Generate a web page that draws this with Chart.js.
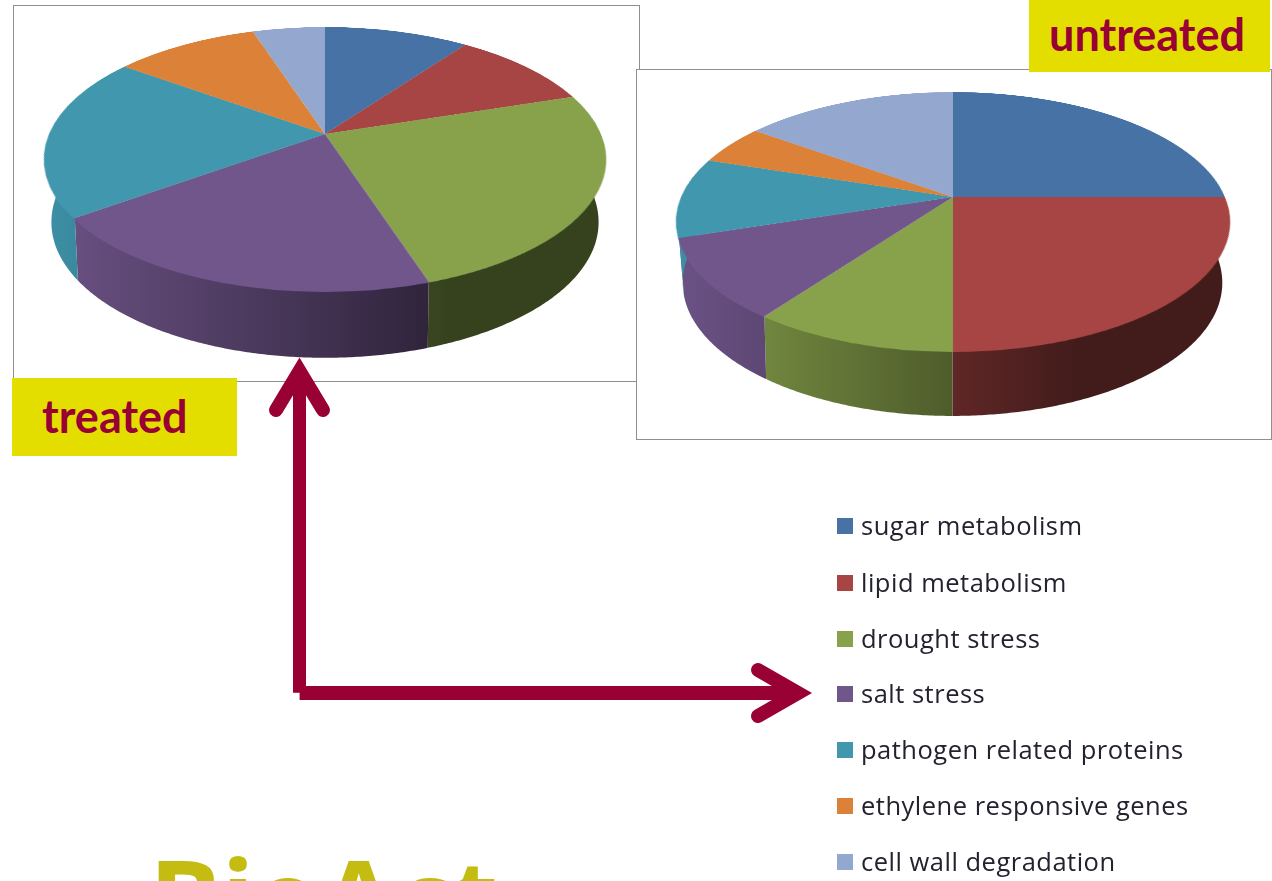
<!DOCTYPE html>
<html><head><meta charset="utf-8">
<style>
html,body{margin:0;padding:0;background:#fff;width:1272px;height:881px;overflow:hidden}
.abs{position:absolute}
.frame{border:1px solid #8f8f8f;box-sizing:border-box;background:#fff}
.tag{background:#e3de00;color:#990033;font:700 45px Lato,sans-serif;box-sizing:border-box;line-height:1}
.leg{font:25.5px "Open Sans",sans-serif;letter-spacing:.5px;color:#22232f;white-space:nowrap;line-height:1}
.sw{width:16px;height:16px}
canvas{display:block}
</style>
<script src="https://cdn.jsdelivr.net/npm/chart.js@4"></script>
</head><body>
<div class="abs frame" style="left:13px;top:5px;width:627px;height:377px"></div>
<div class="abs frame" style="left:636px;top:69px;width:636px;height:371px"></div>
<canvas id="walls" class="abs" width="1272" height="881" style="left:0;top:0"></canvas>
<canvas id="treatedPie" class="abs"></canvas>
<canvas id="untreatedPie" class="abs"></canvas>
<div class="abs tag" style="left:12px;top:378px;width:225px;height:78px;padding:16px 0 0 30px">treated</div>
<div class="abs tag" style="left:1029px;top:0;width:241px;height:72px;padding:12px 0 0 20px">untreated</div>
<svg class="abs" style="left:0;top:0" width="1272" height="881">
  <g fill="none" stroke="#990033" stroke-linejoin="miter">
    <path d="M299.5 692.7V375" stroke-width="13"/>
    <path d="M299.6 693H795" stroke-width="14"/>
    <path d="M276 410L299.5 371L323 410" stroke-width="14" stroke-linecap="round"/>
    <path d="M758 670L798 693L758 716" stroke-width="14" stroke-linecap="round"/>
  </g>
</svg>
<div id="legend"></div>
<div class="abs" id="brand" style="left:149px;top:832px;font:700 108px 'Open Sans',sans-serif;color:#c4bc10;line-height:1.2;white-space:nowrap">BioAct</div>
<script>
const categories = ["sugar metabolism","lipid metabolism","drought stress","salt stress","pathogen related proteins","ethylene responsive genes","cell wall degradation"];
const treatedValues = [10,10,25,20,20,10,5];
const untreatedValues = [25,25,10,10,10,5,15];
const sliceColors = ["#4672a6","#a64543","#88a24c","#71568c","#4097ae","#dc8238","#93a7cf"];

const wallCtx = document.getElementById('walls').getContext('2d');
const K = 0.1923;

function shade(hex, f){
  const n = parseInt(hex.slice(1),16);
  const c = [n>>16,(n>>8)&255,n&255].map(v=>Math.round(v*f));
  return `rgb(${c[0]},${c[1]},${c[2]})`;
}
const shadeStops = [[-1,0.95],[-0.68,0.82],[0,0.57],[0.45,0.4],[1,0.4]];
const rimPlugin = {
  id:'rim',
  afterDraw(chart){
    const g = chart.options.plugins.rim;
    const {cx,cy,R,c,H} = g;
    const s2 = Math.sqrt(1-c*c), d = R*s2/K;
    const project = (a,h,r)=>{
      const sn=Math.sin(a), X=r*Math.cos(a), Y=r*sn;
      const z=Y*s2-h*c, y=Y*c+h*s2, s=d/(d-z), s0=d/(d-Y*s2);
      const m=0.55+0.9*Math.pow(1-Math.min(1,Math.abs(sn)),2);
      return [cx+X*s0*(1+(s/s0-1)*m), cy+y*s];
    };
    chart.getDatasetMeta(0).data.forEach((arc,i)=>{
      const step=Math.PI/360, top=[], bot=[];
      for(let a=arc.startAngle;;a+=step){
        const t=Math.min(a,arc.endAngle);
        if(Math.sin(t)>-0.3){ top.push(project(t,0,R-1.5)); bot.push(project(t,H,R)); }
        if(t>=arc.endAngle) break;
      }
      if(!top.length) return;
      const grad=wallCtx.createLinearGradient(cx-R,0,cx+R,0);
      shadeStops.forEach(s=>grad.addColorStop((s[0]+1)/2,shade(sliceColors[i],s[1])));
      wallCtx.beginPath();
      top.concat(bot.reverse()).forEach((q,j)=>j?wallCtx.lineTo(q[0],q[1]):wallCtx.moveTo(q[0],q[1]));
      wallCtx.closePath();
      wallCtx.fillStyle=grad;
      wallCtx.fill();
    });
  }
};
function makePie(id,values,g){
  const el=document.getElementById(id);
  const size=2*g.R;
  el.width=size; el.height=size;
  el.style.width=size+'px'; el.style.height=size+'px';
  el.style.left=(g.cx-g.R)+'px'; el.style.top=(g.cy-g.R)+'px';
  const s2=Math.sqrt(1-g.c*g.c), d=g.R*s2/K, deg=Math.acos(g.c)*180/Math.PI;
  el.style.transformOrigin='50% 50%';
  el.style.transform=`perspective(${d}px) rotateX(${deg}deg)`;
  new Chart(el,{
    type:'pie',
    data:{labels:categories,datasets:[{data:values,backgroundColor:sliceColors,borderWidth:0,hoverOffset:0}]},
    options:{responsive:false,animation:false,events:[],layout:{padding:0},
      plugins:{legend:{display:false},tooltip:{enabled:false},rim:g}},
    plugins:[rimPlugin]
  });
}
makePie('treatedPie',treatedValues,{cx:325,cy:134,R:276,c:0.4623,H:66});
makePie('untreatedPie',untreatedValues,{cx:952.5,cy:197,R:272,c:0.46,H:64});

const legendY=[526,583,639,694,750,806,862];
const legend=document.getElementById('legend');
categories.forEach((t,i)=>{
  const sw=document.createElement('div');
  sw.className='abs sw'; sw.style.left='837px'; sw.style.top=(legendY[i]-8)+'px'; sw.style.background=sliceColors[i];
  legend.appendChild(sw);
  const tx=document.createElement('div');
  tx.className='abs leg'; tx.textContent=t; tx.style.left='861px'; tx.style.top=(legendY[i]-13)+'px';
  legend.appendChild(tx);
});
</script>
</body></html>
